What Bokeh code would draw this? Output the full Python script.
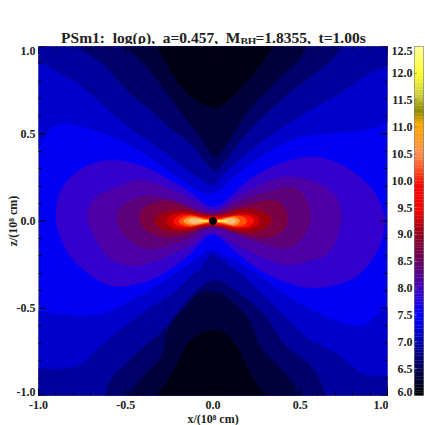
from bokeh.plotting import figure
from bokeh.layouts import row, column
from bokeh.embed import file_html
from bokeh.resources import INLINE
from bokeh.models import Range1d, FixedTicker, LinearAxis, Label
import numpy as np

FONT = "Liberation Serif"

major_ticks = [-1.0, -0.5, 0.0, 0.5, 1.0]
minor_ticks = [-0.9, -0.8, -0.7, -0.6, -0.4, -0.3, -0.2, -0.1, 0.1, 0.2, 0.3, 0.4, 0.6, 0.7, 0.8, 0.9]
major_labels = ["-1.0", "-0.5", "0.0", "0.5", "1.0"]
cb_ticks = [6.0, 6.5, 7.0, 7.5, 8.0, 8.5, 9.0, 9.5, 10.0, 10.5, 11.0, 11.5, 12.0, 12.5]
cb_labels = ["6.0", "6.5", "7.0", "7.5", "8.0", "8.5", "9.0", "9.5", "10.0", "10.5", "11.0", "11.5", "12.0", "12.5"]

cmap_values = [6.0, 7.5, 8.0, 8.5, 9.0, 9.5, 9.9, 10.2, 10.5, 11.05, 11.3, 11.6, 12.0, 12.5]
cmap_colors = ["#000000", "#0000ff", "#4000c0", "#6a0060", "#900020", "#ff0000", "#ff0000", "#ff5020",
               "#ff9050", "#ffaa00", "#8a8a00", "#d0d040", "#ffff33", "#ffff99"]

band_colors = dict(F="#0000f5", E="#0000cc", D="#00009c", C="#00006a", B="#00003c", A="#000014",
                   G="#3300cc", H="#4d00a6", I="#5e0078", J="#7c0044", K="#9c0010", L="#cc0000",
                   M="#ff1000", N="#ff5200", O="#ff9a38", P="#f4c080")

# Contours, (x, z), upper half
top_E = [(-1, .414), (-.951, .509), (-.913, .548), (-.855, .563), (-.779, .548), (-.683, .519), (-.569, .481),
         (-.473, .433), (-.358, .366), (-.244, .280), (-.148, .213), (-.053, .160), (0, .155), (.062, .194),
         (.139, .270), (.234, .347), (.349, .414), (.463, .471), (.559, .496), (.712, .504), (.827, .515),
         (.922, .534), (1, .567)]
top_D = [(-1, .901), (-.951, .897), (-.874, .844), (-.779, .796), (-.702, .729), (-.636, .672), (-.569, .605),
         (-.473, .528), (-.339, .442), (-.205, .337), (-.091, .251), (0, .194), (.043, .251), (.119, .328),
         (.234, .424), (.368, .519), (.502, .605), (.616, .672), (.712, .720), (.807, .786), (.903, .853), (1, .892)]
top_C = [(-.788, 1), (-.712, .958), (-.616, .892), (-.530, .787), (-.454, .710), (-.339, .624), (-.244, .529),
         (-.129, .452), (-.033, .328), (.014, .280), (.062, .328), (.139, .442), (.215, .529), (.311, .624),
         (.406, .710), (.502, .787), (.597, .853), (.693, .939), (.741, 1)]
top_B = [(-.502, 1), (-.416, .920), (-.349, .853), (-.291, .767), (-.234, .691), (-.148, .576), (-.072, .481),
         (-.014, .385), (.024, .356), (.081, .442), (.139, .538), (.215, .653), (.301, .739), (.406, .844),
         (.492, .920), (.540, 1)]
top_A = [(-.32, 1), (-.205, .796), (-.129, .71), (-.05, .665), (.014, .643), (.043, .653), (.12, .72),
         (.234, .844), (.349, 1)]
# Contours, lower half
bot_E = [(-1, -.513), (-.931, -.532), (-.798, -.542), (-.664, -.542), (-.569, -.513), (-.473, -.456), (-.358, -.398),
         (-.244, -.322), (-.148, -.255), (-.053, -.188), (-.014, -.160), (.062, -.198), (.139, -.236), (.234, -.293),
         (.330, -.360), (.444, -.446), (.559, -.504), (.693, -.570), (.827, -.609), (.884, -.590), (.941, -.532), (1, -.504)]
bot_D = [(-1, -.844), (-.913, -.852), (-.798, -.844), (-.731, -.810), (-.683, -.752), (-.607, -.685), (-.511, -.609),
         (-.416, -.532), (-.301, -.465), (-.205, -.399), (-.129, -.322), (-.053, -.255), (-.014, -.188), (.024, -.207),
         (.100, -.265), (.177, -.312), (.234, -.380), (.311, -.446), (.387, -.523), (.463, -.599), (.540, -.676),
         (.636, -.723), (.731, -.771), (.807, -.848), (.884, -.890), (1, -.890)]
bot_C = [(-.616, -1), (-.588, -.905), (-.511, -.829), (-.397, -.723), (-.282, -.628), (-.205, -.523), (-.129, -.437),
         (-.053, -.360), (.024, -.332), (.100, -.380), (.196, -.446), (.292, -.532), (.349, -.618), (.406, -.714),
         (.502, -.781), (.578, -.848), (.616, -.924), (.645, -1)]
bot_B = [(-.492, -1), (-.397, -.886), (-.282, -.771), (-.272, -.657), (-.225, -.561), (-.139, -.475), (-.072, -.399),
         (.043, -.408), (.119, -.466), (.187, -.532), (.234, -.628), (.272, -.733), (.349, -.809), (.444, -.905), (.492, -1)]
bot_A = [(-.32, -1), (-.225, -.867), (-.167, -.733), (-.11, -.666), (-.043, -.628), (.043, -.628), (.1, -.666),
         (.167, -.771), (.225, -.905), (.301, -1)]
# Central lobes, closed
band_G = [(-.903, 0), (-.894, .118), (-.865, .194), (-.807, .261), (-.712, .328), (-.588, .353), (-.473, .337),
          (-.358, .299), (-.244, .232), (-.129, .165), (-.053, .100), (0, .075), (.043, .090), (.100, .137), (.196, .232),
          (.311, .299), (.425, .347), (.559, .372), (.655, .356), (.750, .318), (.846, .251), (.922, .175), (.970, .079),
          (.989, 0), (.979, -.045), (.960, -.141), (.903, -.236), (.827, -.322), (.731, -.360), (.616, -.385),
          (.502, -.379), (.387, -.341), (.272, -.284), (.177, -.217), (.081, -.130), (0, -.065), (-.053, -.102),
          (-.148, -.207), (-.244, -.274), (-.339, -.332), (-.435, -.360), (-.540, -.385), (-.645, -.351), (-.740, -.284),
          (-.826, -.198), (-.874, -.102)]
band_H = [(-.722, 0), (-.712, .098), (-.664, .146), (-.549, .194), (-.435, .242), (-.320, .213), (-.225, .175),
          (-.110, .118), (-.033, .060), (.043, .060), (.139, .137), (.234, .194), (.349, .242), (.425, .255), (.540, .242),
          (.636, .204), (.712, .137), (.735, .060), (.735, -.026), (.702, -.121), (.655, -.198), (.559, -.227),
          (.449, -.259), (.349, -.236), (.234, -.188), (.139, -.140), (.043, -.074), (-.033, -.054), (-.110, -.131),
          (-.225, -.188), (-.339, -.236), (-.454, -.265), (-.559, -.236), (-.626, -.188), (-.683, -.083)]
band_I = [(-.553, 0), (-.546, .060), (-.492, .108), (-.397, .146), (-.282, .137), (-.167, .098), (-.053, .051),
          (.033, .051), (.119, .098), (.234, .146), (.349, .175), (.425, .204), (.502, .179), (.550, .098), (.559, .022),
          (.559, -.007), (.530, -.083), (.444, -.160), (.349, -.150), (.234, -.112), (.119, -.074), (.033, -.035),
          (-.053, -.045), (-.148, -.112), (-.263, -.141), (-.358, -.169), (-.454, -.131), (-.521, -.074)]
band_J = [(-.425, 0), (-.416, .060), (-.358, .098), (-.263, .118), (-.167, .089), (-.072, .041), (.024, .032),
          (.119, .070), (.215, .098), (.311, .121), (.368, .118), (.416, .070), (.429, .012), (.429, -.007), (.397, -.064),
          (.311, -.102), (.215, -.093), (.119, -.054), (.033, -.016), (-.033, -.016), (-.110, -.064), (-.205, -.093),
          (-.301, -.093), (-.387, -.054)]
band_K = [(-.339, 0), (-.311, .041), (-.225, .066), (-.110, .056), (-.033, .032), (.043, .032), (.139, .066),
          (.253, .070), (.320, .036), (.339, 0), (.311, -.035), (.234, -.070), (.119, -.060), (.024, -.026),
          (-.033, -.026), (-.148, -.060), (-.263, -.060), (-.320, -.032)]
band_L = [(-.272, 0), (-.244, .036), (-.167, .050), (-.053, .026), (.043, .026), (.177, .050), (.253, .032), (.272, 0),
          (.253, -.030), (.177, -.052), (.062, -.028), (-.043, -.018), (-.158, -.052), (-.244, -.040)]
band_M = [(-.234, 0), (-.205, .028), (-.148, .040), (-.053, .018), (.053, .018), (.158, .036), (.219, .026), (.238, 0),
          (.215, -.028), (.158, -.040), (.062, -.020), (-.053, -.014), (-.148, -.038), (-.215, -.024)]
band_N = [(-.205, 0), (-.17, .024), (-.12, .032), (-.06, .016), (-.02, .005), (.02, .005), (.07, .016), (.13, .032),
          (.178, .022), (.20, 0), (.178, -.024), (.12, -.032), (.06, -.016), (0, -.004), (-.06, -.016), (-.12, -.032), (-.17, -.024)]
band_O = [(-.177, 0), (-.14, .022), (-.09, .020), (-.04, .006), (.04, .006), (.09, .020), (.13, .022), (.16, 0),
          (.13, -.024), (.09, -.020), (.04, -.006), (-.04, -.006), (-.09, -.020), (-.14, -.022)]
band_P_left = [(-.15, 0), (-.12, .014), (-.085, .012), (-.05, .003), (-.05, -.003), (-.085, -.012), (-.12, -.014)]
band_P_right = [(.05, .003), (.085, .012), (.115, .014), (.135, 0), (.115, -.015), (.085, -.012), (.05, -.003)]
jet_x = [-.077, -.030, .028, .081]
hole_x, hole_z, hole_r = [0.0], [0.0], 0.02


def chaikin(pts, closed, rounds=2):
    a = np.array(pts, dtype=float)
    for _ in range(rounds):
        b = np.roll(a, -1, axis=0) if closed else a[1:]
        s = a if closed else a[:-1]
        q, r = .75 * s + .25 * b, .25 * s + .75 * b
        mid = np.empty((2 * len(s), 2))
        mid[0::2], mid[1::2] = q, r
        a = mid if closed else np.vstack([a[:1], mid, a[-1:]])
    return a


def open_region(pts, corners):
    a = chaikin(pts, False)
    if corners:
        a = np.vstack([a, np.array(corners, dtype=float)])
    return list(a[:, 0]), list(a[:, 1])


def closed_region(pts):
    a = chaikin(pts, True)
    return list(a[:, 0]), list(a[:, 1])


p = figure(width=388, height=381, x_range=Range1d(-1, 1), y_range=Range1d(-1, 1),
           output_backend="svg", toolbar_location=None, x_axis_type=None, y_axis_type=None,
           min_border_left=38, min_border_right=1, min_border_top=2, min_border_bottom=30,
           frame_width=349, frame_height=349, background_fill_color=band_colors["F"])
p.grid.visible = False
p.outline_line_color = "#808080"

tops = [(1, 1), (-1, 1)]
bots = [(1, -1), (-1, -1)]
for pts, corners, name in [(top_E, tops, "E"), (bot_E, bots, "E"), (top_D, tops, "D"), (bot_D, bots, "D"),
                           (top_C, [], "C"), (bot_C, [], "C"), (top_B, [], "B"), (bot_B, [], "B"),
                           (top_A, [], "A"), (bot_A, [], "A")]:
    xs, zs = open_region(pts, corners)
    p.patch(xs, zs, fill_color=band_colors[name], line_color=band_colors[name], line_width=0.5)
for pts, name in [(band_G, "G"), (band_H, "H"), (band_I, "I"), (band_J, "J"), (band_K, "K"), (band_L, "L"),
                  (band_M, "M"), (band_N, "N"), (band_O, "O"), (band_P_left, "P"), (band_P_right, "P")]:
    xs, zs = closed_region(pts)
    p.patch(xs, zs, fill_color=band_colors[name], line_color=band_colors[name], line_width=0.5)
p.segment(x0=jet_x[0::2], y0=[0, 0], x1=jet_x[1::2], y1=[0, 0], line_color="#ffff30", line_width=1.3)
p.circle(x=hole_x, y=hole_z, radius=hole_r, fill_color="black", line_color="black")


def style_axis(ax):
    ax.axis_line_color = None
    ax.major_tick_in, ax.major_tick_out = 7, 0
    ax.minor_tick_in, ax.minor_tick_out = 3, 0
    ax.major_tick_line_color = "#000000"
    ax.minor_tick_line_color = "#000000"
    ax.major_label_text_font = FONT
    ax.major_label_text_font_style = "bold"
    ax.major_label_text_font_size = "12px"
    ax.major_label_text_color = "#222222"
    ax.axis_label_text_font = FONT
    ax.axis_label_text_font_style = "bold"
    ax.axis_label_text_font_size = "12px"
    ax.axis_label_text_color = "#222222"


xa = LinearAxis(axis_label="x/(10⁸ cm)")
style_axis(xa)
xa.ticker = FixedTicker(ticks=major_ticks, minor_ticks=minor_ticks)
xa.major_label_overrides = dict(zip(major_ticks, major_labels))
xa.major_label_standoff = 5
xa.axis_label_standoff = 0
p.add_layout(xa, "below")

# the outermost labels of the reference stand 4px inside the frame corners
shift = 4 / 174.5
y_label_at = [-1 + shift, -0.5, 0.0, 0.5, 1 - shift]
ya = LinearAxis(axis_label="z/(10⁸ cm)")
style_axis(ya)
ya.ticker = FixedTicker(ticks=y_label_at, minor_ticks=minor_ticks)
ya.major_label_overrides = dict(zip(y_label_at, major_labels))
ya.major_tick_line_color = None
ya.major_label_standoff = 3
ya.major_label_orientation = "horizontal"
ya.axis_label_standoff = -6
p.add_layout(ya, "left")

# ticks on the other sides, and the left major ticks
big, small = 7 / 174.5, 3 / 174.5
n, m = len(major_ticks), len(minor_ticks)
p.segment(x0=major_ticks, y0=[1] * n, x1=major_ticks, y1=[1 - big] * n, line_color="#000000", line_width=1)
p.segment(x0=minor_ticks, y0=[1] * m, x1=minor_ticks, y1=[1 - small] * m, line_color="#000000", line_width=1)
p.segment(x0=[1] * n, y0=major_ticks, x1=[1 - big] * n, y1=major_ticks, line_color="#000000", line_width=1)
p.segment(x0=[1] * m, y0=minor_ticks, x1=[1 - small] * m, y1=minor_ticks, line_color="#000000", line_width=1)
p.segment(x0=[-1] * n, y0=major_ticks, x1=[-1 + big] * n, y1=major_ticks, line_color="#000000", line_width=1)

# Title strip
head = figure(width=425, height=44, x_range=Range1d(0, 425), y_range=Range1d(0, 44),
              output_backend="svg", toolbar_location=None, x_axis_type=None, y_axis_type=None,
              min_border=0, outline_line_color=None)
head.grid.visible = False
title_parts = [("PSm1:\u00a0 log(ρ),\u00a0 a=0.457,\u00a0 M", 240, 7, "right", "15.5px"),
               ("BH", 240, 4, "left", "11px"),
               ("=1.8355,\u00a0 t=1.00s", 255, 7, "left", "15.5px")]
for txt, x, y, align, size in title_parts:
    head.add_layout(Label(x=x, y=y, text=txt, text_align=align, text_baseline="alphabetic",
                          text_font=FONT, text_font_style="bold", text_font_size=size, text_color="#222222"))

# Colour bar
cb = figure(width=37, height=381, x_range=Range1d(0, 1), y_range=Range1d(6, 12.5),
            output_backend="svg", toolbar_location=None, x_axis_type=None, y_axis_type=None,
            min_border_left=26, min_border_right=2, min_border_top=2, min_border_bottom=30,
            frame_width=9, frame_height=349)
cb.grid.visible = False
cb.outline_line_color = "#808080"
edges = np.linspace(6, 12.5, 131)
rgb = np.array([[int(c[i:i + 2], 16) for i in (1, 3, 5)] for c in cmap_colors], dtype=float)
slices = [np.interp(.5 * (edges[:-1] + edges[1:]), cmap_values, rgb[:, k]) for k in range(3)]
fills = ["#%02x%02x%02x" % (int(r), int(g), int(b)) for r, g, b in zip(*slices)]
cb.quad(left=0, right=1, bottom=edges[:-1], top=edges[1:], fill_color=fills, line_color=fills, line_width=0.3)
cb_shift = 4 * 6.5 / 349
cb_label_at = [6.0 + cb_shift] + cb_ticks[1:-1] + [12.5 - cb_shift]
ca = LinearAxis()
ca.ticker = FixedTicker(ticks=cb_label_at)
ca.axis_line_color = None
ca.major_tick_in, ca.major_tick_out = 2, 0
ca.minor_tick_line_color = None
ca.major_tick_line_color = None
ca.major_label_text_font = FONT
ca.major_label_text_font_style = "bold"
ca.major_label_text_font_size = "12px"
ca.major_label_text_color = "#222222"
ca.major_label_overrides = dict(zip(cb_label_at, cb_labels))
ca.major_label_standoff = 2
cb.add_layout(ca, "left")
cb.segment(x0=[0] * 14, y0=cb_ticks, x1=[.25] * 14, y1=cb_ticks, line_color="#808080", line_width=1)

layout = column(head, row(p, cb, spacing=0), spacing=0)
open("out.html", "w").write(file_html(layout, INLINE))
